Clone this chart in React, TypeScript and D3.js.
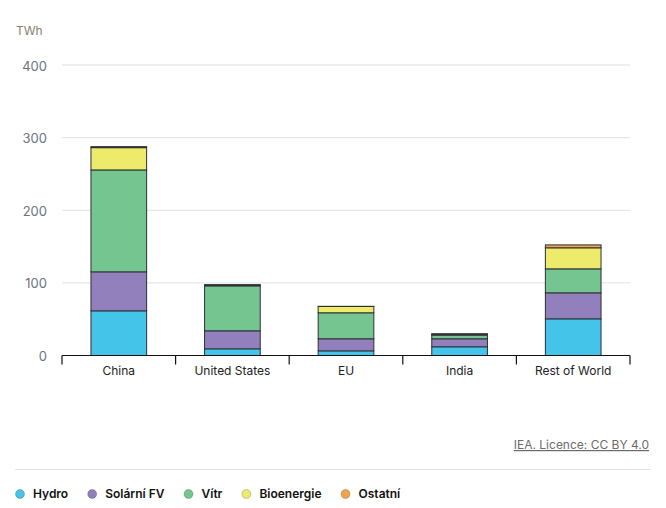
import { useEffect, useRef } from "react";
import * as d3 from "d3";

const W = 666;
const H = 508;

const CATEGORIES = ["China", "United States", "EU", "India", "Rest of World"];
const SERIES = ["Hydro", "Solární FV", "Vítr", "Bioenergie", "Ostatní"];
const COLORS = ["#44c4e9", "#9180bb", "#74c58f", "#eeeb6c", "#f2a44c"];

// TWh per category, one array per series
const HYDRO = [61.5, 9.2, 6.4, 12, 50.5];
const SOLAR = [53.7, 24.8, 16.6, 11, 35.8];
const WIND = [140.3, 61.9, 35.8, 5, 33];
const BIO = [30.7, 1.2, 8.7, 1.4, 29];
const OTHER = [1.4, 0.4, 0.2, 0.6, 4];

const Y_TICKS = [0, 100, 200, 300, 400];
const UNIT = "TWh";
const CREDIT = "IEA. Licence: CC BY 4.0";

const MARGIN = { top: 65, right: 36, bottom: 152, left: 62 };

export default function App() {
  const svgRef = useRef<SVGSVGElement>(null);

  useEffect(() => {
    const svgEl = svgRef.current;
    if (!svgEl) return;
    const svg = d3.select(svgEl);
    svg.selectAll("*").remove();

    const font = "Inter, 'Noto Sans', sans-serif";
    const x0 = MARGIN.left;
    const x1 = W - MARGIN.right;
    const baseY = H - MARGIN.bottom - 0.5;

    const x = d3.scaleBand<string>().domain(CATEGORIES).range([x0, x1]).paddingInner(0.51).paddingOuter(0.255);
    const y = d3.scaleLinear().domain([0, 400]).range([baseY, MARGIN.top]);

    const rows = CATEGORIES.map((c, i) => ({
      cat: c,
      s0: HYDRO[i],
      s1: SOLAR[i],
      s2: WIND[i],
      s3: BIO[i],
      s4: OTHER[i],
    }));
    const keys = ["s0", "s1", "s2", "s3", "s4"];
    const stacked = d3.stack<any>().keys(keys)(rows);

    // gridlines
    svg
      .append("g")
      .selectAll("line")
      .data(Y_TICKS.filter((t) => t > 0))
      .enter()
      .append("line")
      .attr("x1", x0)
      .attr("x2", x1)
      .attr("y1", (d) => y(d))
      .attr("y2", (d) => y(d))
      .attr("stroke", "#e0e0e0")
      .attr("stroke-width", 1);

    // y labels
    svg
      .append("g")
      .selectAll("text")
      .data(Y_TICKS)
      .enter()
      .append("text")
      .attr("x", 47)
      .attr("y", (d) => y(d) + 1)
      .attr("dy", "0.35em")
      .attr("text-anchor", "end")
      .attr("fill", "#6b7280")
      .attr("font-family", font)
      .attr("font-size", 13)
      .text((d) => d);

    svg
      .append("text")
      .attr("x", 16)
      .attr("y", 35)
      .attr("fill", "#8a7c70")
      .attr("font-family", font)
      .attr("font-size", 12)
      .text(UNIT);

    // bars
    stacked.forEach((layer, si) => {
      svg
        .append("g")
        .selectAll("rect")
        .data(layer)
        .enter()
        .append("rect")
        .attr("x", (d) => x(d.data.cat)!)
        .attr("width", x.bandwidth())
        .attr("y", (d) => y(d[1]))
        .attr("height", (d) => Math.max(0, y(d[0]) - y(d[1])))
        .attr("fill", COLORS[si])
        .attr("stroke", "#2b3035")
        .attr("stroke-width", 1);
    });

    // x axis
    const ax = svg.append("g");
    ax.append("line")
      .attr("x1", x0)
      .attr("x2", x1)
      .attr("y1", baseY)
      .attr("y2", baseY)
      .attr("stroke", "#111")
      .attr("stroke-width", 1.2);
    const step = x.step();
    const edges = CATEGORIES.map((c) => x(c)! - (step - x.bandwidth()) / 2).concat([x1]);
    ax.selectAll("line.tick")
      .data(edges)
      .enter()
      .append("line")
      .attr("class", "tick")
      .attr("x1", (d) => d)
      .attr("x2", (d) => d)
      .attr("y1", baseY)
      .attr("y2", baseY + 9)
      .attr("stroke", "#111")
      .attr("stroke-width", 1.2);
    ax.selectAll("text")
      .data(CATEGORIES)
      .enter()
      .append("text")
      .attr("x", (d) => x(d)! + x.bandwidth() / 2)
      .attr("y", baseY + 19)
      .attr("text-anchor", "middle")
      .attr("fill", "#222")
      .attr("font-family", font)
      .attr("font-size", 12)
      .text((d) => d);

    // credit
    svg
      .append("text")
      .attr("x", 649)
      .attr("y", 449)
      .attr("text-anchor", "end")
      .attr("fill", "#6b6b6b")
      .attr("font-family", font)
      .attr("font-size", 12)
      .attr("text-decoration", "underline")
      .text(CREDIT);

    svg
      .append("line")
      .attr("x1", 15)
      .attr("x2", 651)
      .attr("y1", 469.5)
      .attr("y2", 469.5)
      .attr("stroke", "#e2e2e2");

    // legend
    const lg = svg.append("g").attr("transform", "translate(0,494)");
    let lx = 20;
    SERIES.forEach((s, i) => {
      lg.append("circle")
        .attr("cx", lx)
        .attr("cy", 0)
        .attr("r", 4.5)
        .attr("fill", COLORS[i])
        .attr("stroke", "rgba(0,0,0,0.25)")
        .attr("stroke-width", 0.8);
      const t = lg
        .append("text")
        .attr("x", lx + 13)
        .attr("y", 0)
        .attr("dy", "0.35em")
        .attr("fill", "#111")
        .attr("font-family", font)
        .attr("font-size", 12)
        .attr("font-weight", 600)
        .text(s);
      const tw = (t.node() as SVGTextElement).getComputedTextLength();
      lx += 13 + tw + 24;
    });
  }, []);

  return (
    <svg
      ref={svgRef}
      width={W}
      height={H}
      style={{ position: "absolute", left: 0, top: 0, background: "#fff" }}
    />
  );
}
